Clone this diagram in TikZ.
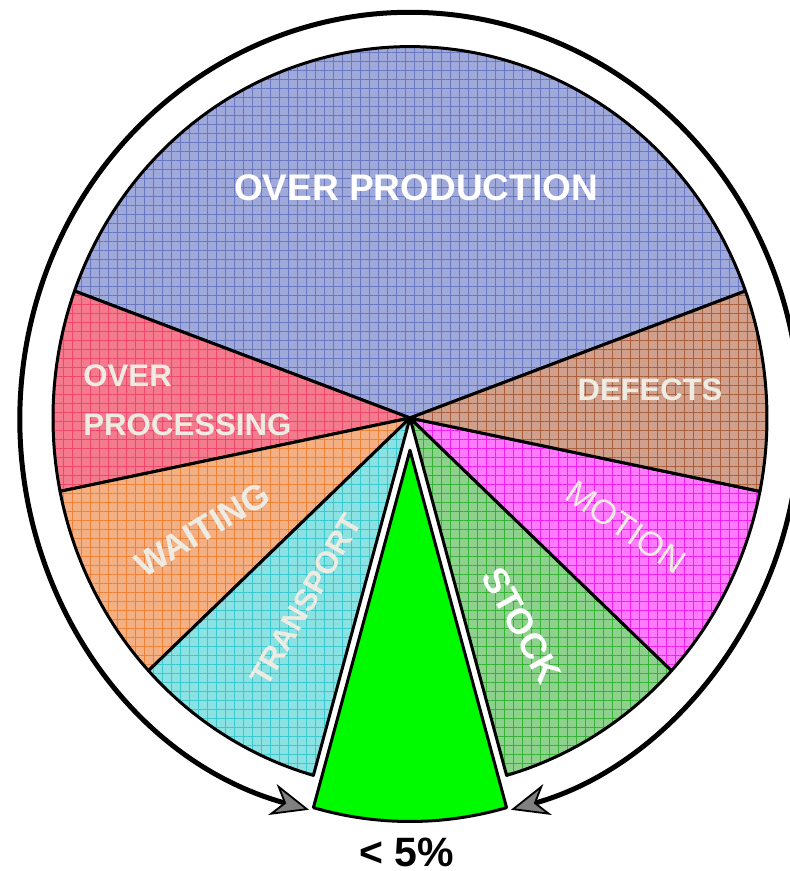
\documentclass[tikz,border=0pt]{standalone}
\usepackage{fontspec}
\setmainfont{Liberation Sans}
\usetikzlibrary{arrows.meta,patterns.meta}

\definecolor{opfill}{RGB}{160,170,218}
\definecolor{opline}{RGB}{105,118,192}
\definecolor{oprfill}{RGB}{244,122,142}
\definecolor{oprline}{RGB}{240,70,105}
\definecolor{deffill}{RGB}{208,160,140}
\definecolor{defline}{RGB}{170,95,60}
\definecolor{waitfill}{RGB}{244,176,130}
\definecolor{waitline}{RGB}{235,130,55}
\definecolor{transfill}{RGB}{138,226,226}
\definecolor{transline}{RGB}{60,198,206}
\definecolor{stockfill}{RGB}{140,210,140}
\definecolor{stockline}{RGB}{55,178,55}
\definecolor{motfill}{RGB}{255,122,255}
\definecolor{motline}{RGB}{242,30,242}
\definecolor{wastegreen}{RGB}{0,250,0}
\definecolor{offwhite}{RGB}{238,236,226}

\tikzset{
  wedge/.style 2 args={draw=black, line width=1.5pt, line join=round,
    preaction={fill=#1},
    pattern={Hatch[distance=4.5pt, line width=0.45pt]}, pattern color=#2},
  lbl/.style={text=offwhite, inner sep=0pt},
  ring/.style={draw=black, line width=2.5pt,
    {Stealth[length=19pt, width=16pt, inset=6pt, fill=gray, line width=0.9pt]}-{Stealth[length=19pt, width=16pt, inset=6pt, fill=gray, line width=0.9pt]}}
}

\begin{document}
\begin{tikzpicture}[x=0.5pt, y=0.52pt]
        \useasboundingbox (-410,401.9) rectangle (380,-435.6);

        % slices of the pie, the green one is pulled out
        \draw[wedge={opfill}{opline}] (0,0) -- (20:357) arc[start angle=20, end angle=160, radius=357] -- cycle;
        \draw[wedge={oprfill}{oprline}] (0,0) -- (160:357) arc[start angle=160, end angle=191.4, radius=357] -- cycle;
        \draw[wedge={waitfill}{waitline}] (0,0) -- (191.4:357) arc[start angle=191.4, end angle=222.9, radius=357] -- cycle;
        \draw[wedge={transfill}{transline}] (0,0) -- (222.9:357) arc[start angle=222.9, end angle=254.3, radius=357] -- cycle;
        \draw[wedge={stockfill}{stockline}] (0,0) -- (285.7:357) arc[start angle=285.7, end angle=317.1, radius=357] -- cycle;
        \draw[wedge={motfill}{motline}] (0,0) -- (317.1:357) arc[start angle=317.1, end angle=348.6, radius=357] -- cycle;
        \draw[wedge={deffill}{defline}] (0,0) -- (348.6:357) arc[start angle=348.6, end angle=380, radius=357] -- cycle;
        \filldraw[fill=wastegreen, draw=black, line width=1.5pt, line join=round] (0,-31) -- ++(254.3:357) arc[start angle=254.3, end angle=285.7, radius=357] -- cycle;

        \node[lbl, text=white, font=\bfseries\fontsize{18.5}{20}\selectfont] (op) at (6,221) {OVER PRODUCTION};
        \node[lbl, font=\bfseries\fontsize{15.6}{24.5}\selectfont, align=left, anchor=west] (opr) at (-327,17.3) {OVER\\PROCESSING};
        \node[lbl, font=\bfseries\fontsize{15.5}{18}\selectfont] (def) at (240,27) {DEFECTS};
        \node[lbl, font=\bfseries\fontsize{17.5}{19}\selectfont, rotate=31] (wait) at (-208,-107.7) {WAITING};
        \node[lbl, font=\bfseries\fontsize{15.5}{17}\selectfont, rotate=60] (trans) at (-104,-175) {TRANSPORT};
        \node[lbl, text=white, font=\bfseries\fontsize{18}{20}\selectfont, rotate=-61] (stock) at (112,-199) {STOCK};
        \node[lbl, font=\fontsize{17}{19}\selectfont, rotate=-34] (mot) at (216,-105) {MOTION};
        \node[font=\bfseries\fontsize{20.5}{22}\selectfont, inner sep=0pt] (pct) at (-3,-418) {< 5\%};

        % arrow round the pie
        \coordinate (ringl) at (255:390);
        \coordinate (ringr) at (-75:390);
        \draw[ring] (ringl) arc[start angle=255, end angle=-75, radius=390];

    \end{tikzpicture}
\end{document}
